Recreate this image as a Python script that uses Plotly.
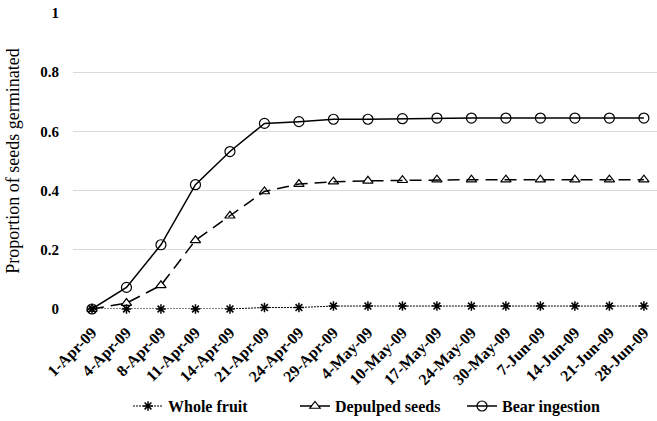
import plotly.graph_objects as go

dates = ["1-Apr-09", "4-Apr-09", "8-Apr-09", "11-Apr-09", "14-Apr-09", "21-Apr-09",
         "24-Apr-09", "29-Apr-09", "4-May-09", "10-May-09", "17-May-09", "24-May-09",
         "30-May-09", "7-Jun-09", "14-Jun-09", "21-Jun-09", "28-Jun-09"]
whole_fruit = [0, 0, 0, 0, 0, 0.005, 0.005, 0.01, 0.01, 0.01, 0.01, 0.01, 0.01, 0.01, 0.01, 0.01, 0.01]
depulped = [0, 0.02, 0.08, 0.232, 0.315, 0.397, 0.422, 0.43, 0.433, 0.435, 0.437, 0.437,
            0.437, 0.437, 0.437, 0.437, 0.437]
bear = [0, 0.073, 0.217, 0.42, 0.532, 0.627, 0.633, 0.641, 0.641, 0.643, 0.645, 0.645,
        0.645, 0.645, 0.645, 0.645, 0.645]
y_ticks = [0, 0.2, 0.4, 0.6, 0.8, 1]
y_labels = ["0", "0.2", "0.4", "0.6", "0.8", "1"]

font = "Liberation Serif"

fig = go.Figure()
fig.add_trace(go.Scatter(x=dates, y=whole_fruit, name="Whole fruit", mode="lines+markers",
                         line=dict(color="black", width=1, dash="2px,1px"),
                         marker=dict(symbol="asterisk-open", size=8, color="black",
                                     line=dict(color="black", width=1.5)),
                         cliponaxis=False))
fig.add_trace(go.Scatter(x=dates, y=depulped, name="Depulped seeds", mode="lines+markers",
                         line=dict(color="black", width=1.5, dash="12px,7px"),
                         marker=dict(symbol="triangle-up-open", size=9, color="black",
                                     line=dict(color="black", width=1.2)),
                         cliponaxis=False))
fig.add_trace(go.Scatter(x=dates, y=bear, name="Bear ingestion", mode="lines+markers",
                         line=dict(color="black", width=1.5),
                         marker=dict(symbol="circle-open", size=10, color="black",
                                     line=dict(color="black", width=1.2)),
                         cliponaxis=False))

fig.update_layout(
    width=657, height=421,
    margin=dict(l=73, r=0, t=13, b=112, autoexpand=False),
    paper_bgcolor="white", plot_bgcolor="white",
    font=dict(family=font, color="black"),
    showlegend=True,
    legend=dict(orientation="h", x=(128 - 73) / 584, xanchor="left", y=-0.328, yanchor="middle",
                font=dict(family=font, size=16, color="black", weight="bold"),
                entrywidth=122, entrywidthmode="pixels",
                traceorder="normal"),
    xaxis=dict(type="category", range=[-0.55, 16.38], tickangle=-45, showgrid=False,
               zeroline=False, showline=False, ticks="outside", ticklen=7,
               tickcolor="rgba(0,0,0,0)", automargin=False,
               tickfont=dict(family=font, size=16, color="black", weight="bold")),
    yaxis=dict(range=[0, 1], tickvals=y_ticks, ticktext=y_labels, showgrid=True,
               gridcolor="#d9d9d9", gridwidth=1, zeroline=False, showline=False,
               ticks="outside", ticklen=10, tickcolor="rgba(0,0,0,0)", automargin=False,
               tickfont=dict(family=font, size=15, color="black", weight="bold")),
)
fig.update_yaxes(title=dict(text="Proportion of seeds germinated",
                            font=dict(family=font, size=18, color="black")))

fig.write_html("out.html")
